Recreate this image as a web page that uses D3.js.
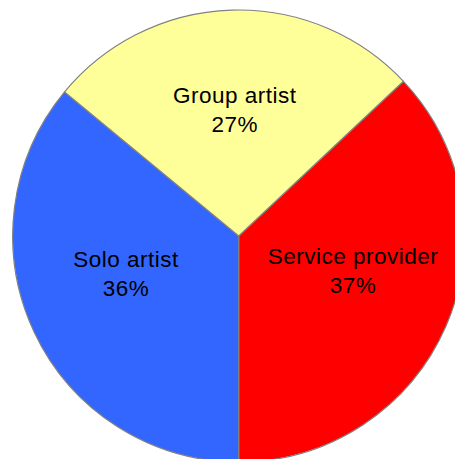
<!DOCTYPE html>
<html>
<head>
<meta charset="utf-8">
<script src="https://cdn.jsdelivr.net/npm/d3@7"></script>
<style>
  body { margin: 0; background: #fff; }
  text { font-family: "Liberation Sans", Arial, sans-serif; }
</style>
</head>
<body>
<svg id="chart"></svg>
<script>
// chart data
const categories = ["Service provider", "Solo artist", "Group artist"];
const percents = [37, 36, 27];
const colors = ["#ff0000", "#3366ff", "#ffff99"];

const width = 455, height = 459;
const cx = 238.7, cy = 236, radius = 226;

const svg = d3.select("#chart")
    .attr("width", width)
    .attr("height", height);

const data = categories.map((c, i) => ({ label: c, value: percents[i], color: colors[i] }));

// red slice ends exactly at 6 o'clock
const startAngle = Math.PI - percents[0] / 100 * 2 * Math.PI;

const pie = d3.pie()
    .sort(null)
    .value(d => d.value)
    .startAngle(startAngle)
    .endAngle(startAngle + 2 * Math.PI);

const arc = d3.arc().innerRadius(0).outerRadius(radius);
const labelArc = d3.arc().innerRadius(115).outerRadius(115);

const g = svg.append("g")
    .attr("transform", `translate(${cx},${cy})`);

const arcs = pie(data);

g.selectAll("path.slice")
    .data(arcs)
    .join("path")
    .attr("class", "slice")
    .attr("d", arc)
    .attr("fill", d => d.data.color)
    .attr("stroke", "#808080")
    .attr("stroke-width", 1.2);

const labels = g.selectAll("text.label")
    .data(arcs)
    .join("text")
    .attr("class", "label")
    .attr("text-anchor", "middle")
    .style("font-size", "22.5px")
    .style("letter-spacing", "0.5px")
    .attr("fill", "#000")
    .attr("transform", d => {
        const [x, y] = labelArc.centroid(d);
        // labels sit a bit wider apart than the plain centroid
        return `translate(${x * 1.083},${y - 10.7})`;
    });

labels.append("tspan")
    .attr("x", 0)
    .attr("y", -7)
    .text(d => d.data.label);

labels.append("tspan")
    .attr("x", 0)
    .attr("y", 22)
    .text(d => d.data.value + "%");
</script>
</body>
</html>
